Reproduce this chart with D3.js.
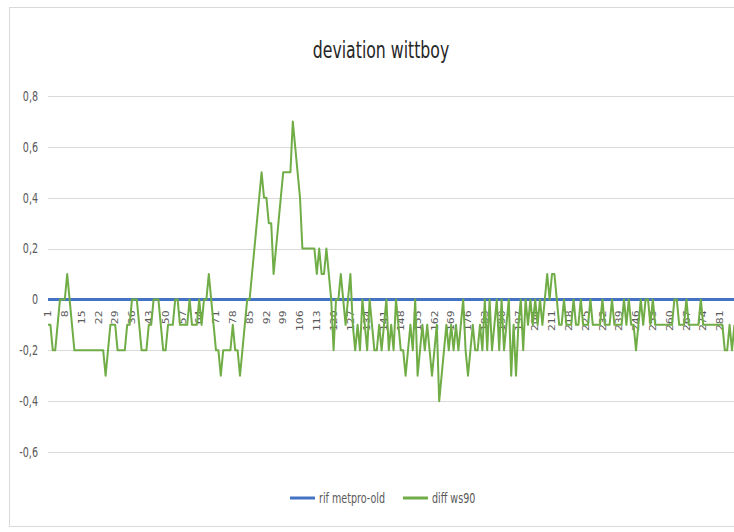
<!DOCTYPE html>
<html>
<head>
<meta charset="utf-8">
<script src="https://cdn.jsdelivr.net/npm/d3@7"></script>
<style>
    body { margin: 0; background: #fff; }
    text { font-family: 'Liberation Sans Narrow', 'DejaVu Sans Condensed', 'Liberation Sans', sans-serif; }
</style>
</head>
<body>
<div id="chart"></div>
<script>
const diffValues = [
    -0.1, -0.1, -0.2, -0.2, -0.1, 0, 0, 0, 0.1, 0,
    -0.1, -0.2, -0.2, -0.2, -0.2, -0.2, -0.2, -0.2, -0.2, -0.2,
    -0.2, -0.2, -0.2, -0.2, -0.3, -0.2, -0.1, -0.1, -0.1, -0.2,
    -0.2, -0.2, -0.2, -0.1, -0.1, 0, 0, 0, -0.1, -0.2,
    -0.2, -0.2, -0.1, -0.1, 0, 0, 0, -0.1, -0.2, -0.2,
    -0.1, -0.1, -0.1, 0, 0, -0.1, -0.1, -0.1, -0.1, 0,
    -0.1, -0.1, -0.1, 0, -0.1, 0, 0, 0.1, 0, -0.1,
    -0.2, -0.2, -0.3, -0.2, -0.2, -0.2, -0.2, -0.1, -0.2, -0.2,
    -0.3, -0.2, -0.1, 0, 0, 0.1, 0.2, 0.3, 0.4, 0.5,
    0.4, 0.4, 0.3, 0.3, 0.1, 0.2, 0.3, 0.4, 0.5, 0.5,
    0.5, 0.5, 0.7, 0.6, 0.5, 0.4, 0.2, 0.2, 0.2, 0.2,
    0.2, 0.2, 0.1, 0.2, 0.1, 0.1, 0.2, 0.1, 0, -0.2,
    0, 0, 0.1, 0, -0.1, 0, 0.1, -0.1, -0.2, -0.1,
    -0.2, 0, -0.1, -0.2, 0, -0.1, -0.2, -0.2, -0.1, -0.2,
    -0.1, 0, -0.2, -0.1, -0.2, 0, -0.1, -0.2, -0.2, -0.3,
    -0.2, -0.1, -0.2, 0, -0.3, -0.2, -0.1, -0.2, -0.1, -0.2,
    -0.3, -0.2, -0.1, -0.4, -0.3, -0.2, -0.1, -0.2, -0.1, -0.2,
    -0.1, -0.2, -0.1, 0, -0.2, -0.3, -0.2, -0.1, -0.2, -0.2,
    -0.1, -0.2, 0, -0.2, 0, -0.2, -0.1, 0, -0.2, 0,
    -0.2, -0.1, 0, -0.3, -0.1, -0.3, -0.1, 0, -0.2, 0,
    -0.1, 0, -0.1, 0, -0.1, 0, -0.1, 0, 0.1, 0,
    0.1, 0.1, 0, -0.1, -0.1, 0, -0.1, -0.1, -0.1, 0,
    -0.1, -0.1, 0, -0.1, -0.1, -0.1, 0, -0.1, -0.1, -0.1,
    -0.1, 0, -0.1, -0.1, -0.1, 0, -0.1, -0.1, -0.1, -0.1,
    0, -0.1, 0, -0.1, -0.1, -0.2, -0.1, 0, -0.1, 0,
    0, -0.1, 0, -0.1, -0.1, -0.1, -0.1, -0.1, -0.1, -0.1,
    -0.1, 0, 0, -0.1, -0.1, -0.1, 0, -0.1, -0.1, -0.1,
    -0.1, -0.1, 0, -0.1, -0.1, -0.1, -0.1, -0.1, -0.1, -0.1,
    -0.1, -0.1, -0.2, -0.2, -0.1, -0.2, -0.1
];
// reference series is flat at zero
const refValue = 0;
const categories = d3.range(1, diffValues.length + 1);
const tickLabels = [1, 8, 15, 22, 29, 36, 43, 50, 57, 64, 71, 78, 85, 92, 99, 106, 113, 120, 127, 134,
    141, 148, 155, 162, 169, 176, 183, 190, 197, 204, 211, 218, 225, 232, 239, 246, 253, 260, 267, 274, 281];
const yTicks = [0.8, 0.6, 0.4, 0.2, 0, -0.2, -0.4, -0.6];
const seriesNames = ['rif metpro-old', 'diff ws90'];
const seriesColors = ['#4472c4', '#70ad47'];

class LineChart {
    constructor(config) {
        this.config = {
            parent: config.parent,
            width: config.width || 734,
            height: config.height || 532,
            margin: config.margin || { top: 96, right: 0, bottom: 80, left: 48 },
            squeeze: 0.76   // the source picture is squashed sideways
        };
        this.init();
    }

    init() {
        let self = this;
        let cfg = self.config;

        self.svg = d3.select(cfg.parent).append('svg')
            .attr('width', cfg.width)
            .attr('height', cfg.height);

        // chart area frame
        self.svg.append('rect')
            .attr('x', 9.5).attr('y', 7.5)
            .attr('width', cfg.width).attr('height', cfg.height - 13)
            .attr('fill', '#fff')
            .attr('stroke', '#d9d9d9');

        self.svg.append('text')
            .attr('transform', `translate(381, 58) scale(${cfg.squeeze}, 1)`)
            .attr('text-anchor', 'middle')
            .attr('font-size', 23)
            .attr('fill', '#262626')
            .text('deviation wittboy');

        self.xscale = d3.scalePoint()
            .domain(categories)
            .range([cfg.margin.left, cfg.margin.left + (categories.length - 1) * 2.4]);

        self.yscale = d3.scaleLinear()
            .domain([-0.6, 0.8])
            .range([452, 96]);
    }

    render() {
        let self = this;
        let x = self.xscale, y = self.yscale;
        let sq = self.config.squeeze;
        let fmt = v => d3.format('')(v).replace('.', ',').replace('−', '-');

        // gridlines
        self.svg.append('g')
            .selectAll('line')
            .data(yTicks)
            .join('line')
            .attr('x1', x.range()[0]).attr('x2', self.config.width)
            .attr('y1', d => Math.round(y(d)) + 0.5).attr('y2', d => Math.round(y(d)) + 0.5)
            .attr('stroke', '#d9d9d9')
            .attr('stroke-width', 1);

        // value axis labels
        self.svg.append('g')
            .selectAll('text')
            .data(yTicks)
            .join('text')
            .attr('transform', d => `translate(38, ${y(d)}) scale(${sq}, 1)`)
            .attr('dy', '0.35em')
            .attr('text-anchor', 'end')
            .attr('font-size', 14)
            .attr('fill', '#595959')
            .text(d => fmt(d));

        // category labels, rotated, hanging under the zero line
        self.svg.append('g')
            .selectAll('text')
            .data(tickLabels)
            .join('text')
            .attr('transform', d => `translate(${x(d)}, ${y(0) + 11}) rotate(-90) scale(1, ${sq})`)
            .attr('dy', '0.35em')
            .attr('text-anchor', 'end')
            .attr('font-size', 12)
            .attr('fill', '#595959')
            .text(d => d);

        let line = d3.line()
            .x(d => x(d[0]))
            .y(d => y(d[1]));

        self.svg.append('path')
            .datum(categories.map(c => [c, refValue]))
            .attr('d', line)
            .attr('fill', 'none')
            .attr('stroke', seriesColors[0])
            .attr('stroke-width', 3);

        self.svg.append('path')
            .datum(categories.map((c, i) => [c, diffValues[i]]))
            .attr('d', line)
            .attr('fill', 'none')
            .attr('stroke', seriesColors[1])
            .attr('stroke-width', 2)
            .attr('stroke-linejoin', 'round');

        // legend
        let legendX = [290, 403];
        let legend = self.svg.append('g')
            .selectAll('g')
            .data(seriesNames)
            .join('g')
            .attr('transform', (d, i) => `translate(${legendX[i]}, 498)`);
        legend.append('line')
            .attr('x1', 0).attr('x2', 25)
            .attr('stroke', (d, i) => seriesColors[i])
            .attr('stroke-width', 3);
        legend.append('text')
            .attr('transform', `translate(29, 0) scale(${sq}, 1)`)
            .attr('dy', '0.35em')
            .attr('font-size', 14)
            .attr('fill', '#595959')
            .text(d => d);
    }
}

let chart = new LineChart({ parent: '#chart' });
chart.render();
</script>
</body>
</html>
